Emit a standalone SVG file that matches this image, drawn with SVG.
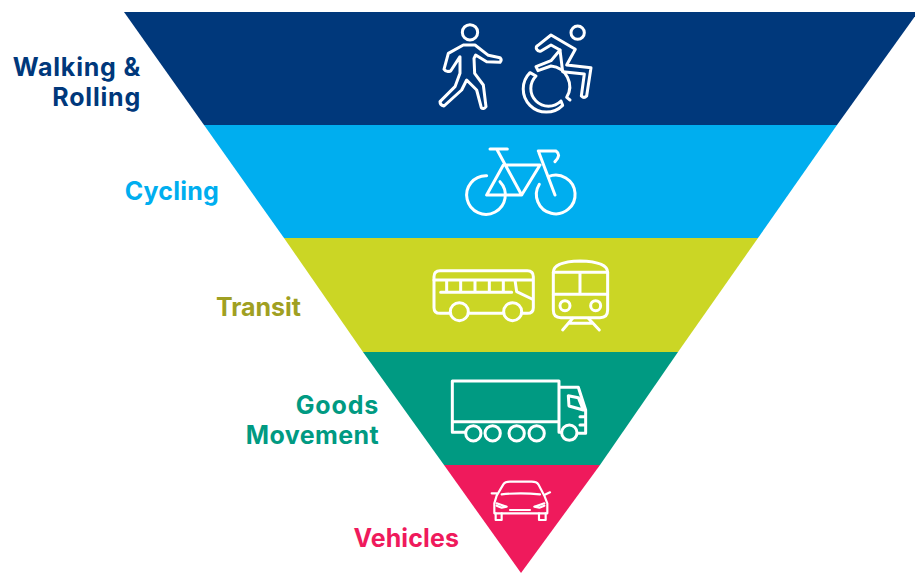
<svg xmlns="http://www.w3.org/2000/svg" width="915" height="573" viewBox="0 0 915 573">
<style>
.l{font-family:Inter,"Liberation Sans",sans-serif;font-weight:700;font-size:25px;text-anchor:end;letter-spacing:.4px}
.i{fill:none;stroke:#fff;stroke-linecap:round;stroke-linejoin:round;stroke-width:9}
</style>
<rect width="915" height="573" fill="#fff"/>
<g id="walking-rolling">
<polygon points="124,12 918,12 837,125 204,125" fill="#00387b"/>
<g class="i" transform="translate(420 10) scale(.3333)">
<circle cx="150" cy="67" r="23"/>
<path d="M130 105H165L205 136L240 143Q247 150 240 157L200 155L167 135L162 145L164 190L190 225L198 290Q190 300 184 293L170 240L140 210L125 240L72 288Q60 285 60 275L105 230L120 190L120 140L92 183Q78 188 72 178L85 130Z"/>
</g>
<g class="i" transform="translate(516 20) scale(.3333)">
<circle cx="185" cy="38" r="20"/>
<path d="M62 88Q58 80 66 76L105 45L178 88L152 135L225 143L212 228Q204 236 196 228L205 162L140 155L132 90L105 75L75 93Q66 95 62 88Z"/>
<path d="M132 90L105 122L60 140L66 152L105 138A62 62 0 0 1 152 232L162 240"/>
<path d="M42 158A66 66 0 0 0 140 256L135 243A46 46 0 0 1 60 168Z"/>
</g>
</g>
<g id="cycling">
<polygon points="204,125 837,125 758,238 284,238" fill="#00aeef"/>
<g class="i" transform="translate(420 135) scale(.3333)">
<path d="M200 122A58 58 0 1 0 240 140"/>
<path d="M385 125A58 58 0 1 1 358 148"/>
<path d="M210 42H262M230 42L305 180M250 90H360M250 90L200 180H305L360 90M355 48L405 180M355 48H408Q425 60 405 80"/>
</g>
</g>
<g id="transit">
<polygon points="284,238 758,238 678,352 363,352" fill="#cbd625"/>
<g class="i" transform="translate(420 135) scale(.3333)">
<path d="M90 535H60Q42 535 42 518V425Q42 407 60 407H322Q340 407 340 425V518Q340 535 322 535H305M146 535H250"/>
<circle cx="118" cy="530" r="27"/>
<circle cx="278" cy="530" r="27"/>
<path d="M42 435H338M62 472H275M80 435V472M122 435V472M165 435V472M208 435V472M250 435V472M285 435L290 470L336 492"/>
<path d="M400 412Q400 380 480 378Q563 380 563 412V525Q563 548 540 548H423Q400 548 400 525Z"/>
<path d="M400 412H563M400 478H563M480 412V478"/>
<circle cx="435" cy="512" r="15"/>
<circle cx="527" cy="512" r="15"/>
<path d="M458 550L428 585M505 550L538 585M445 565H518"/>
</g>
</g>
<g id="goods-movement">
<polygon points="363,352 678,352 600,465 444,465" fill="#009a82"/>
<g class="i" transform="translate(440 370) scale(.3333)">
<path d="M75 187H37V33H357V187H364M37 155H357M357 52H415L437 120V190H412M385 77L415 83L430 120L387 108ZM420 140H437M420 165H437"/>
<circle cx="100" cy="190" r="23"/>
<circle cx="158" cy="190" r="23"/>
<circle cx="230" cy="190" r="23"/>
<circle cx="290" cy="190" r="23"/>
<circle cx="388" cy="188" r="23"/>
</g>
</g>
<g id="vehicles">
<polygon points="444,465 600,465 521,573" fill="#ef1a5c"/>
<g class="i" transform="translate(485 475) scale(.3333)" style="stroke-width:6.5">
<path d="M35 62L55 28Q60 20 75 20H140Q155 20 160 28L178 62L187 85V115H28V85ZM50 58Q107 52 165 58"/>
<path d="M20 55H35M178 60L195 52M35 85L65 95L50 98L35 92M178 85L148 95L163 98L178 92M75 105H135M32 115V135H50V115M162 115V135H182V115"/>
</g>
</g>
<g id="labels">
<text class="l" x="141" y="76" fill="#00387b" style="letter-spacing:.8px">Walking &amp;</text>
<text class="l" x="141" y="106" fill="#00387b" style="letter-spacing:.8px">Rolling</text>
<text class="l" x="219" y="200" fill="#00aeef" style="letter-spacing:.2px">Cycling</text>
<text class="l" x="301" y="316" fill="#a0a022" style="letter-spacing:0">Transit</text>
<text class="l" x="379" y="414" fill="#009a82" style="letter-spacing:.8px">Goods</text>
<text class="l" x="379" y="444" fill="#009a82">Movement</text>
<text class="l" x="459" y="547" fill="#ef1a5c" style="letter-spacing:.1px">Vehicles</text>
</g>
</svg>
